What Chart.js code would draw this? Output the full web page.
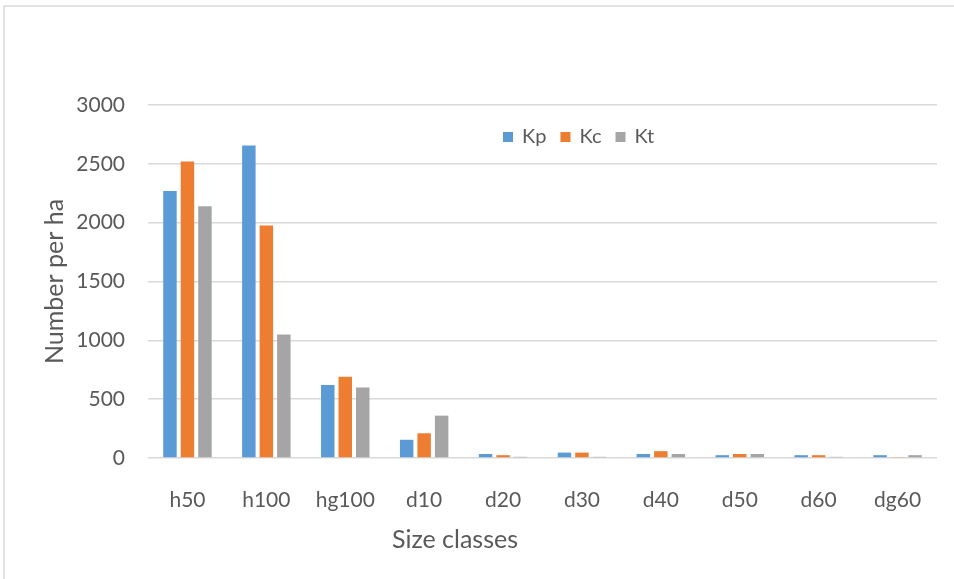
<!DOCTYPE html>
<html>
<head>
<meta charset="utf-8">
<title>Number per ha by size class</title>
<script src="https://cdn.jsdelivr.net/npm/chart.js@4/dist/chart.umd.min.js"></script>
<style>
  body { margin: 0; background: #fff; }
  canvas { display: block; }
</style>
</head>
<body>
<canvas id="sizeChart" width="954" height="579"></canvas>
<script>
'use strict';

//--------> Data <--------
const sizeClasses = ['h50', 'h100', 'hg100', 'd10', 'd20', 'd30', 'd40', 'd50', 'd60', 'dg60'];
const kpValues = [2270, 2655, 620, 155, 34, 46, 34, 24, 24, 24];
const kcValues = [2520, 1975, 690, 210, 24, 46, 58, 34, 24, 8];
const ktValues = [2140, 1050, 600, 360, 10, 10, 34, 34, 10, 24];
const yTicks = [0, 500, 1000, 1500, 2000, 2500, 3000];
const xTitle = 'Size classes';

const textColor = '#595959';
const gridColor = '#d9d9d9';
const fontFamily = 'Lato, "Open Sans", sans-serif';

//--------> Outer frame, legend inside the plot, x title <--------
const framePlugin = {
  id: 'frame',
  beforeDraw (chart) {
    const ctx = chart.ctx;
    ctx.save();
    ctx.fillStyle = '#fff';
    ctx.fillRect(0, 0, chart.width, chart.height);
    ctx.strokeStyle = gridColor;
    ctx.lineWidth = 1.5;
    ctx.strokeRect(4, 6, chart.width + 10, chart.height + 10);
    ctx.restore();
  }
};

const legendPlugin = {
  id: 'innerLegend',
  afterDraw (chart) {
    const ctx = chart.ctx;
    const boxSize = 10;
    const y = 137;
    let x = 503;
    ctx.save();
    ctx.font = '20px ' + fontFamily;
    ctx.textBaseline = 'middle';
    chart.data.datasets.forEach(ds => {
      ctx.fillStyle = ds.backgroundColor;
      ctx.fillRect(x, y - boxSize / 2, boxSize, boxSize);
      ctx.fillStyle = textColor;
      ctx.fillText(ds.label, x + boxSize + 9, y);
      x += boxSize + 9 + ctx.measureText(ds.label).width + 14;
    });
    ctx.restore();
  }
};

// the axis title sits left of the plot centre, so it is drawn by hand
const xTitlePlugin = {
  id: 'xTitle',
  afterDraw (chart) {
    const ctx = chart.ctx;
    ctx.save();
    ctx.font = '25px ' + fontFamily;
    ctx.fillStyle = textColor;
    ctx.textAlign = 'center';
    ctx.textBaseline = 'middle';
    ctx.fillText(xTitle, 455, 540);
    ctx.restore();
  }
};

//--------> Chart <--------
const ctx = document.getElementById('sizeChart').getContext('2d');
const sizeChart = new Chart(ctx, {
  type: 'bar',
  data: {
    labels: sizeClasses,
    datasets: [
      { label: 'Kp', data: kpValues, backgroundColor: '#5b9bd5' },
      { label: 'Kc', data: kcValues, backgroundColor: '#ed7d31' },
      { label: 'Kt', data: ktValues, backgroundColor: '#a5a5a5' }
    ]
  },
  options: {
    responsive: false,
    animation: false,
    layout: { padding: { left: 20, top: 105, right: 17, bottom: 20 } },
    datasets: {
      bar: { categoryPercentage: 0.665, barPercentage: 0.77 }
    },
    plugins: {
      legend: { display: false },
      tooltip: { enabled: false }
    },
    scales: {
      x: {
        grid: { display: false },
        border: { display: false },
        ticks: {
          color: textColor,
          font: { family: fontFamily, size: 21 },
          padding: 22,
          maxRotation: 0
        },
        afterFit (scale) { scale.height = 579 - 458 - 20; }
      },
      y: {
        min: 0,
        max: 3000,
        afterBuildTicks (scale) { scale.ticks = yTicks.map(v => ({ value: v })); },
        grid: { color: gridColor, lineWidth: 1.5, drawTicks: false },
        border: { display: false },
        ticks: {
          color: textColor,
          font: { family: fontFamily, size: 21 },
          padding: 23,
          callback: v => String(v)
        },
        title: {
          display: true,
          text: 'Number per ha',
          color: textColor,
          font: { family: fontFamily, size: 25 },
          padding: { top: 20, bottom: 0 }
        },
        afterFit (scale) { scale.width = 148 - 20; }
      }
    }
  },
  plugins: [framePlugin, legendPlugin, xTitlePlugin]
});
</script>
</body>
</html>
